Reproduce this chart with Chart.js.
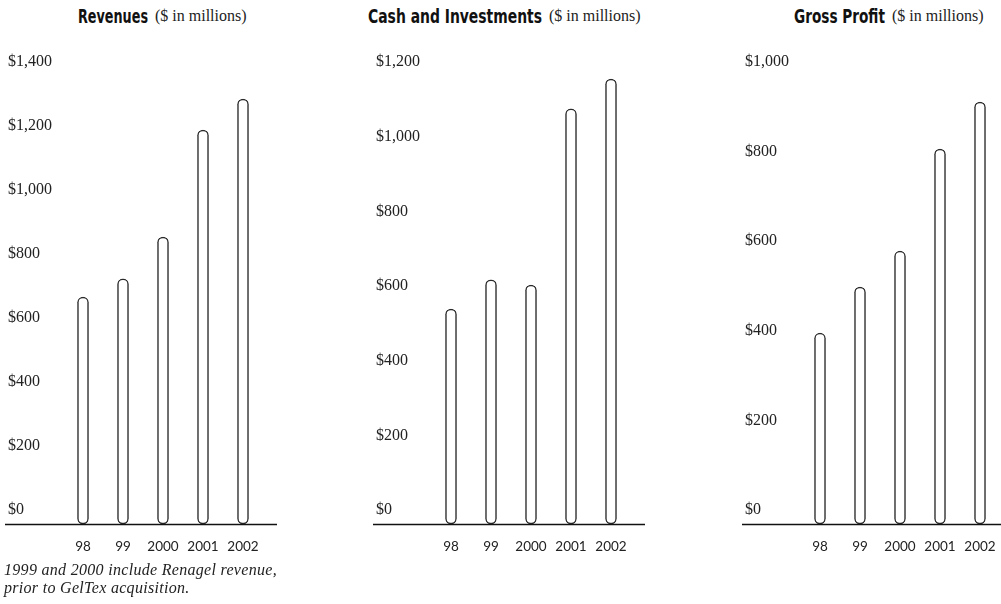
<!DOCTYPE html>
<html><head><meta charset="utf-8">
<script src="https://cdn.jsdelivr.net/npm/chart.js@4"></script>
<style>
html,body{margin:0;padding:0;background:#fff;overflow:hidden;width:1001px;height:604px;position:relative;}
canvas{position:absolute;top:0;}
.title{position:absolute;top:5px;white-space:nowrap;color:#111;}
.title b{display:inline-block;transform-origin:0 50%;font-family:"DejaVu Sans",sans-serif;font-weight:bold;font-size:19px;}
.title span{position:absolute;top:2px;font-family:"Liberation Serif",serif;font-size:16px;color:#222;}
.note{position:absolute;left:4px;top:561px;font-family:"Liberation Serif",serif;font-style:italic;font-size:16px;letter-spacing:0.3px;line-height:18px;color:#222;}
</style></head><body>
<div class="title" style="left:78px" data-w="70"><b>Revenues</b><span>($ in millions)</span></div>
<div class="title" style="left:368px" data-w="174"><b>Cash and Investments</b><span>($ in millions)</span></div>
<div class="title" style="left:794px" data-w="91"><b>Gross Profit</b><span>($ in millions)</span></div>
<canvas id="c1" width="280" height="604" style="left:0px"></canvas>
<canvas id="c2" width="280" height="604" style="left:368px"></canvas>
<canvas id="c3" width="280" height="604" style="left:737px"></canvas>
<div class="note">1999 and 2000 include Renagel revenue,<br>prior to GelTex acquisition.</div>
<script>
const categories = ['98', '99', '2000', '2001', '2002'];
const revenues = [709, 766, 897, 1231, 1328];
const cashInvestments = [576, 654, 640, 1112, 1192];
const grossProfit = [426, 529, 609, 837, 942];
const revenueTicks = [0, 200, 400, 600, 800, 1000, 1200, 1400];
const cashTicks = [0, 200, 400, 600, 800, 1000, 1200];
const profitTicks = [0, 200, 400, 600, 800, 1000];

document.querySelectorAll('.title').forEach(t => {
  const b = t.querySelector('b');
  const s = t.querySelector('span');
  const target = Number(t.dataset.w);
  const w = b.getBoundingClientRect().width;
  b.style.transform = 'scaleX(' + (target / w) + ')';
  s.style.left = (target + 7) + 'px';
});

const baseline = {
  id: 'baseline',
  afterDatasetsDraw(chart) {
    const y = chart.scales.y.getPixelForValue(0);
    const ctx = chart.ctx;
    ctx.save();
    ctx.strokeStyle = '#111';
    ctx.lineWidth = 1.6;
    ctx.beginPath();
    ctx.moveTo(chart.scales.y.left - 3, y + 0.5);
    ctx.lineTo(chart.chartArea.right + 14, y + 0.5);
    ctx.stroke();
    ctx.restore();
  }
};

function makeChart(id, values, ticks) {
  const max = ticks[ticks.length - 1];
  return new Chart(document.getElementById(id), {
    type: 'bar',
    data: {
      labels: categories,
      datasets: [{
        data: values,
        backgroundColor: '#ffffff',
        borderColor: '#2a2a2a',
        borderWidth: 1.5,
        borderRadius: 6,
        borderSkipped: false,
        barThickness: 11
      }]
    },
    options: {
      responsive: false,
      animation: false,
      layout: { padding: { top: 76, bottom: 0, left: 8, right: 17 } },
      plugins: { legend: { display: false }, tooltip: { enabled: false }, title: { display: false } },
      scales: {
        x: {
          type: 'category',
          offset: true,
          grid: { display: false, drawTicks: false },
          border: { display: false },
          ticks: { color: '#222', font: { family: 'Lato', size: 13.5 }, padding: 15, maxRotation: 0, autoSkip: false },
          afterFit(scale) { scale.height = 80; }
        },
        y: {
          min: 0, max: max,
          grid: { display: false, drawTicks: false },
          border: { display: false },
          afterBuildTicks(scale) { scale.ticks = ticks.map(v => ({ value: v })); },
          afterFit(scale) { scale.width = 55; },
          ticks: {
            crossAlign: 'far',
            labelOffset: -14,
            autoSkip: false,
            color: '#222',
            font: { family: 'Liberation Serif', size: 16 },
            callback: v => '$' + Number(v).toLocaleString('en-US')
          }
        }
      }
    },
    plugins: [baseline]
  });
}

makeChart('c1', revenues, revenueTicks);
makeChart('c2', cashInvestments, cashTicks);
makeChart('c3', grossProfit, profitTicks);
</script>
</body></html>
